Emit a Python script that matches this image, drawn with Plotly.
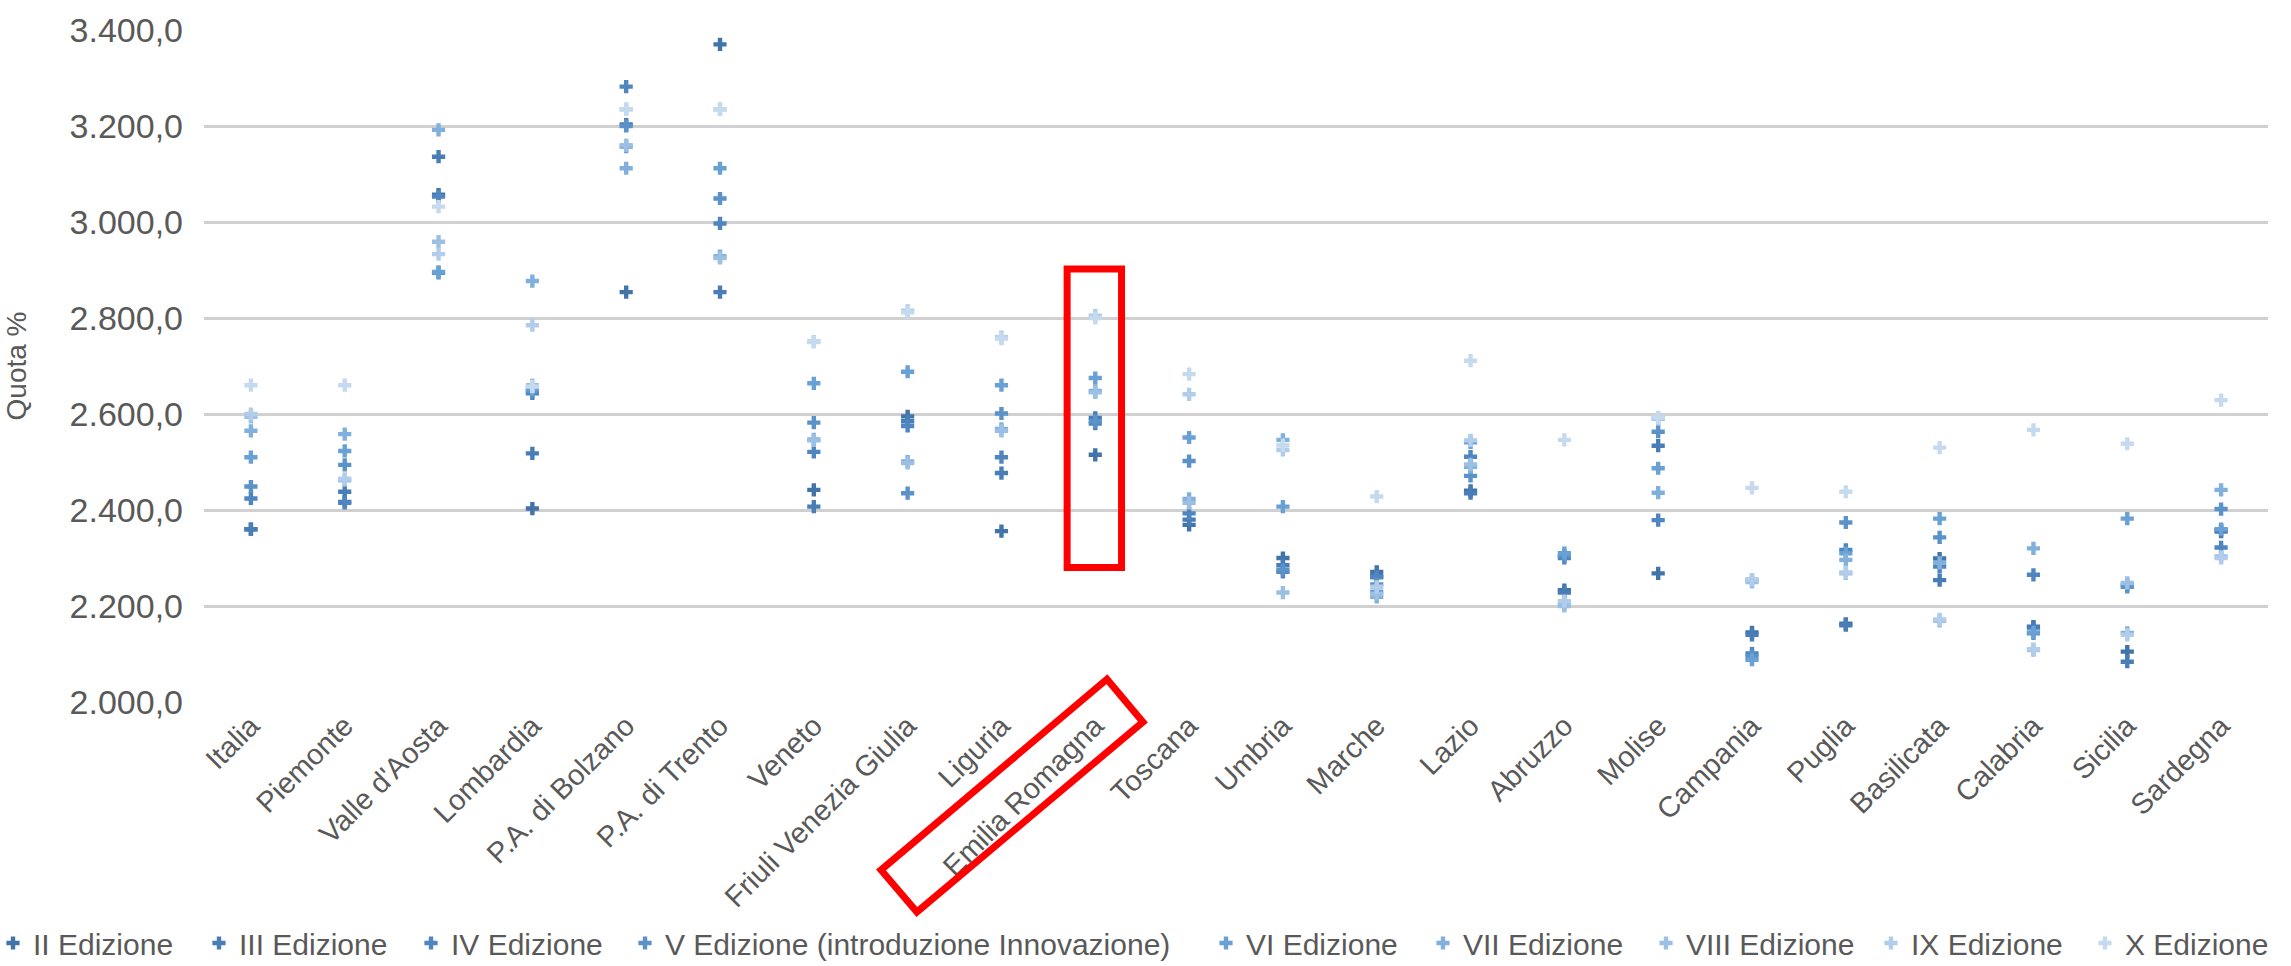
import plotly.graph_objects as go

# Regioni (asse categorie)
regioni = ["Italia", "Piemonte", "Valle d'Aosta", "Lombardia", "P.A. di Bolzano",
           "P.A. di Trento", "Veneto", "Friuli Venezia Giulia", "Liguria",
           "Emilia Romagna", "Toscana", "Umbria", "Marche", "Lazio", "Abruzzo",
           "Molise", "Campania", "Puglia", "Basilicata", "Calabria", "Sicilia",
           "Sardegna"]

# Valori per edizione, nello stesso ordine delle regioni
ed_II = [2360, 2417, 3057, 2403, 2854, 3370, 2442, 2595, 2356, 2515, 2369,
         2300, 2271, 2440, 2233, 2268, 2145, 2163, 2299, 2157, 2105, 2358]
ed_III = [2360, 2438, 3136, 2518, 3203, 2854, 2407, 2585, 2477, 2592, 2380,
          2285, 2262, 2435, 2228, 2534, 2140, 2160, 2254, 2155, 2084, 2355]
ed_IV = [2424, 2415, 3053, 2643, 3282, 2997, 2521, 2575, 2510, 2580, 2393,
         2271, 2260, 2511, 2300, 2379, 2101, 2317, 2282, 2265, 2244, 2322]
ed_V = [2449, 2494, 2894, 2648, 3200, 3049, 2582, 2435, 2601, 2585, 2502,
        2275, 2245, 2471, 2305, 2563, 2095, 2374, 2343, 2143, 2240, 2402]
ed_VI = [2510, 2523, 2896, 2652, 3157, 3112, 2664, 2688, 2660, 2675, 2551,
         2407, 2230, 2541, 2310, 2487, 2088, 2310, 2382, 2145, 2382, 2360]
ed_VII = [2565, 2558, 3192, 2877, 3112, 2929, 2547, 2501, 2569, 2648, 2423,
          2546, 2219, 2490, 2205, 2436, 2255, 2296, 2290, 2320, 2144, 2442]
ed_VIII = [2594, 2462, 2959, 2660, 3160, 2925, 2545, 2498, 2565, 2645, 2415,
           2228, 2225, 2495, 2200, 2590, 2250, 2268, 2169, 2108, 2248, 2303]
ed_IX = [2600, 2465, 2933, 2785, 3235, 3235, 2751, 2815, 2760, 2805, 2641,
         2525, 2240, 2545, 2210, 2591, 2255, 2270, 2172, 2110, 2140, 2300]
ed_X = [2660, 2660, 3032, 2657, 3235, 3235, 2750, 2812, 2757, 2800, 2683,
        2535, 2428, 2711, 2546, 2593, 2446, 2438, 2530, 2567, 2538, 2629]

edizioni = ["II Edizione", "III Edizione", "IV Edizione",
            "V Edizione (introduzione Innovazione)", "VI Edizione",
            "VII Edizione", "VIII Edizione", "IX Edizione", "X Edizione"]
serie = [ed_II, ed_III, ed_IV, ed_V, ed_VI, ed_VII, ed_VIII, ed_IX, ed_X]

colori = ["#4274a9", "#487db5", "#5086bf", "#5b92c9", "#69a1d5",
          "#82b0dd", "#9bc0e4", "#b1cdea", "#c6daef"]

FONT = "Liberation Sans, Arial, sans-serif"
GRIGIO = "#595959"

# Posizione orizzontale (px) di ciascuna voce di legenda
legenda_px = [-7, 199, 411, 625, 1206, 1423, 1646, 1871, 2085]

L, R, T, B = 204, 23, 30, 264
W, H = 2291, 966
PW = W - L - R

fig = go.Figure()
for i, (nome, valori, colore) in enumerate(zip(edizioni, serie, colori)):
    leg = "legend" if i == 0 else f"legend{i + 1}"
    fig.add_trace(go.Scatter(
        x=regioni, y=valori, name=nome, mode="markers", legend=leg,
        marker=dict(symbol="cross", size=11, color=colore, line=dict(width=0)),
    ))

legend_layout = {}
for i, px in enumerate(legenda_px):
    key = "legend" if i == 0 else f"legend{i + 1}"
    legend_layout[key] = dict(
        orientation="h", x=(px - L) / PW, xanchor="left",
        y=(702 - 943) / 672, yanchor="middle",
        font=dict(family=FONT, size=30, color=GRIGIO),
        bgcolor="rgba(0,0,0,0)", borderwidth=0, itemclick=False,
    )

# Evidenziazione Emilia Romagna: riquadro sui punti e sull'etichetta
fig.add_shape(type="rect", xref="x", yref="y",
              x0=8.7, x1=9.28, y0=2280, y1=2902,
              line=dict(color="#ff0000", width=7), fillcolor="rgba(0,0,0,0)")
fig.add_shape(type="path", xref="paper", yref="paper",
              path="M 0.4375,0.034 L 0.4549,-0.0298 L 0.3454,-0.3125 L 0.3280,-0.25 Z",
              line=dict(color="#ff0000", width=7), fillcolor="rgba(0,0,0,0)")

fig.update_layout(
    template="none",
    width=W, height=H,
    margin=dict(l=L, r=R, t=T, b=B, autoexpand=False),
    paper_bgcolor="white", plot_bgcolor="white",
    separators=",.",
    font=dict(family=FONT, color=GRIGIO, size=30),
    showlegend=True,
    xaxis=dict(
        type="category", range=[-0.5, 21.5],
        showgrid=False, showline=False, zeroline=False, ticks="",
        tickangle=-45, tickfont=dict(family=FONT, size=29, color=GRIGIO),
        automargin=False,
    ),
    yaxis=dict(
        range=[2000, 3400], dtick=200, tick0=2000,
        tickformat=",.1f",
        showgrid=True, gridcolor="#d0d0d0", gridwidth=3,
        zeroline=False, showline=False, ticks="",
        ticklabelstandoff=20,
        tickfont=dict(family=FONT, size=34, color=GRIGIO),
        title=dict(text="Quota %", standoff=34,
                   font=dict(family=FONT, size=28, color=GRIGIO)),
        automargin=False,
    ),
    **legend_layout,
)

fig.write_html("out.html")
